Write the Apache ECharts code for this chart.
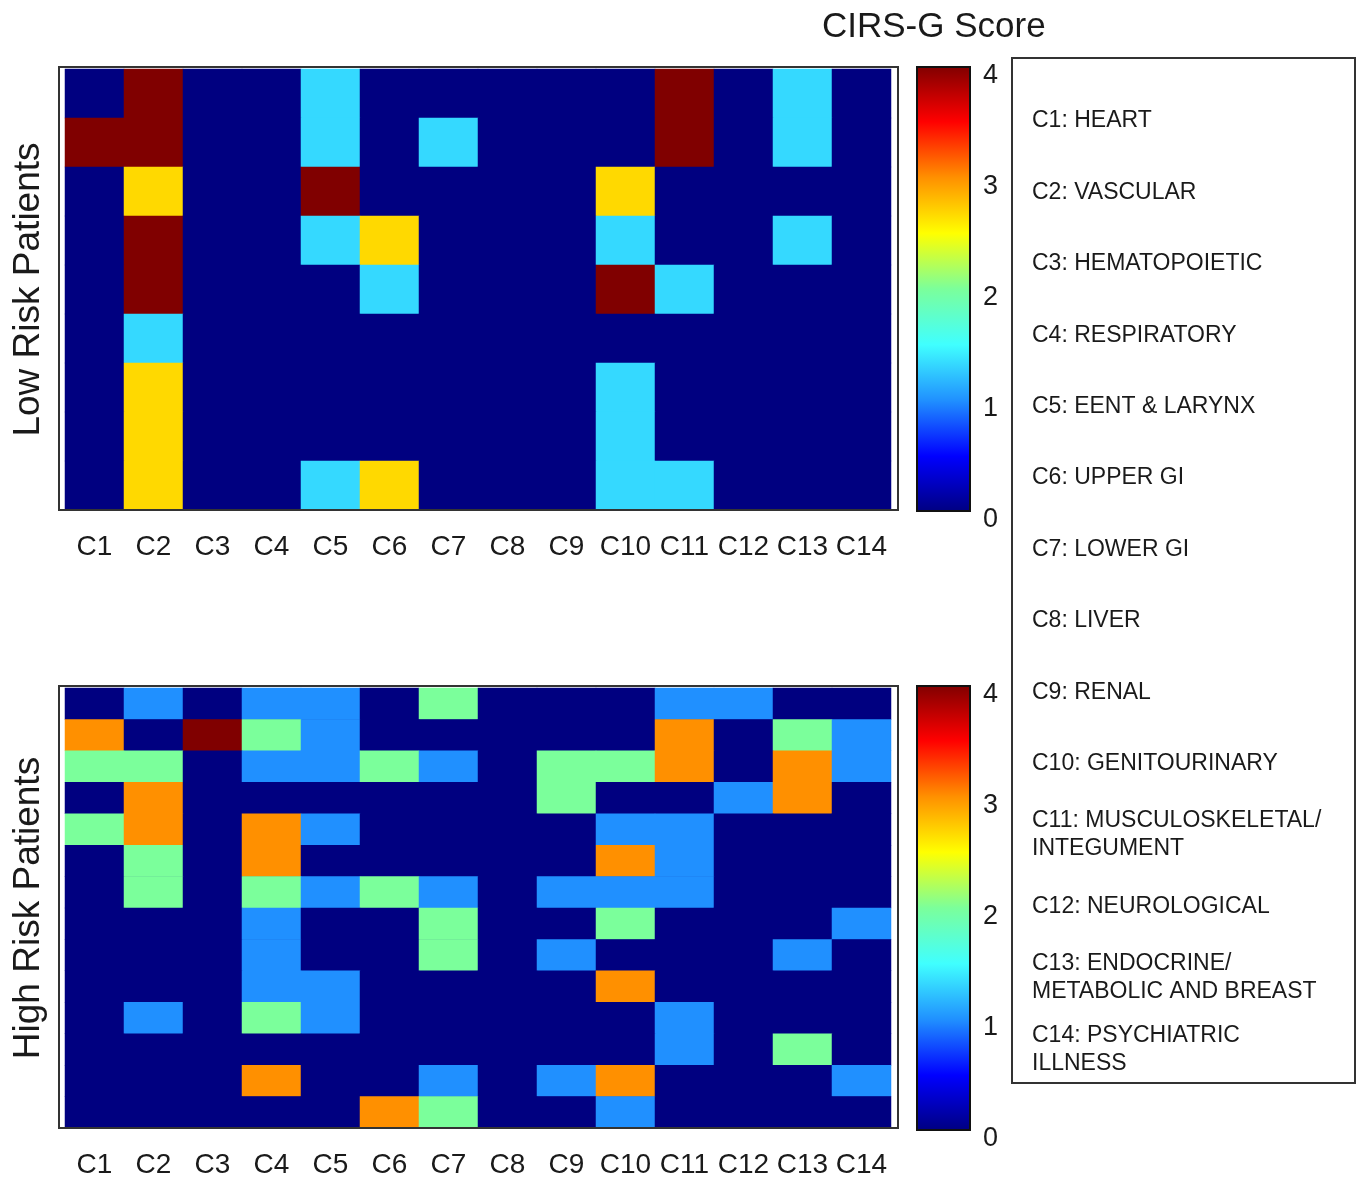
<!DOCTYPE html>
<html>
<head>
<meta charset="utf-8">
<title>CIRS-G Score</title>
<script src="https://cdn.jsdelivr.net/npm/echarts@6/dist/echarts.min.js"></script>
<style>
  html, body { margin: 0; padding: 0; background: #fff; }
  #chart { width: 1363px; height: 1182px; }
</style>
</head>
<body>
<div id="chart"></div>
<script>
const categories = ['C1', 'C2', 'C3', 'C4', 'C5', 'C6', 'C7', 'C8', 'C9', 'C10', 'C11', 'C12', 'C13', 'C14'];
const systemNames = [
  'HEART', 'VASCULAR', 'HEMATOPOIETIC', 'RESPIRATORY', 'EENT & LARYNX', 'UPPER GI', 'LOWER GI',
  'LIVER', 'RENAL', 'GENITOURINARY', 'MUSCULOSKELETAL/\nINTEGUMENT', 'NEUROLOGICAL',
  'ENDOCRINE/\nMETABOLIC AND BREAST', 'PSYCHIATRIC\nILLNESS',
];
const scoreMin = 0;
const scoreMax = 4;
const scoreStep = 1;

// one row per patient, one column per organ system
const lowRisk = [
  [0, 4, 0, 0, 1.33, 0, 0, 0, 0, 0, 4, 0, 1.33, 0],
  [4, 4, 0, 0, 1.33, 0, 1.33, 0, 0, 0, 4, 0, 1.33, 0],
  [0, 2.67, 0, 0, 4, 0, 0, 0, 0, 2.67, 0, 0, 0, 0],
  [0, 4, 0, 0, 1.33, 2.67, 0, 0, 0, 1.33, 0, 0, 1.33, 0],
  [0, 4, 0, 0, 0, 1.33, 0, 0, 0, 4, 1.33, 0, 0, 0],
  [0, 1.33, 0, 0, 0, 0, 0, 0, 0, 0, 0, 0, 0, 0],
  [0, 2.67, 0, 0, 0, 0, 0, 0, 0, 1.33, 0, 0, 0, 0],
  [0, 2.67, 0, 0, 0, 0, 0, 0, 0, 1.33, 0, 0, 0, 0],
  [0, 2.67, 0, 0, 1.33, 2.67, 0, 0, 0, 1.33, 1.33, 0, 0, 0],
];
const highRisk = [
  [0, 1, 0, 1, 1, 0, 2, 0, 0, 0, 1, 1, 0, 0],
  [3, 0, 4, 2, 1, 0, 0, 0, 0, 0, 3, 0, 2, 1],
  [2, 2, 0, 1, 1, 2, 1, 0, 2, 2, 3, 0, 3, 1],
  [0, 3, 0, 0, 0, 0, 0, 0, 2, 0, 0, 1, 3, 0],
  [2, 3, 0, 3, 1, 0, 0, 0, 0, 1, 1, 0, 0, 0],
  [0, 2, 0, 3, 0, 0, 0, 0, 0, 3, 1, 0, 0, 0],
  [0, 2, 0, 2, 1, 2, 1, 0, 1, 1, 1, 0, 0, 0],
  [0, 0, 0, 1, 0, 0, 2, 0, 0, 2, 0, 0, 0, 1],
  [0, 0, 0, 1, 0, 0, 2, 0, 1, 0, 0, 0, 1, 0],
  [0, 0, 0, 1, 1, 0, 0, 0, 0, 3, 0, 0, 0, 0],
  [0, 1, 0, 2, 1, 0, 0, 0, 0, 0, 1, 0, 0, 0],
  [0, 0, 0, 0, 0, 0, 0, 0, 0, 0, 1, 0, 2, 0],
  [0, 0, 0, 3, 0, 0, 1, 0, 1, 3, 0, 0, 0, 1],
  [0, 0, 0, 0, 0, 3, 2, 0, 0, 1, 0, 0, 0, 0],
];

// jet-like colormap, evenly spaced from 0 to 4
const jet = ['#000080', '#0000ff', '#2090ff', '#40ffff', '#7bff9b', '#ffff00', '#ff9000', '#ff0000', '#800000'];

const FONT = '"Liberation Sans", Arial, sans-serif';
const TEXT = '#1a1a1a';

const toCells = (rows) => rows.flatMap((row, r) => row.map((v, c) => [c, r, v]));
const rowNames = (rows) => rows.map((_, i) => String(i + 1));

const gradient = {
  type: 'linear', x: 0, y: 1, x2: 0, y2: 0,
  colorStops: jet.map((color, i) => ({ offset: i / (jet.length - 1), color })),
};

const panels = [
  { top: 69, height: 441, name: 'Low Risk Patients', rows: lowRisk, barTop: 67 },
  { top: 688, height: 440, name: 'High Risk Patients', rows: highRisk, barTop: 686 },
];

const getOption = () => ({
  backgroundColor: '#fff',
  textStyle: { fontFamily: FONT },
  title: {
    text: 'CIRS-G Score',
    left: 817,
    top: 5,
    textStyle: { fontFamily: FONT, fontSize: 35, fontWeight: 'normal', color: TEXT },
  },
  grid: [
    // heatmaps (navy behind the cells hides seams between rows)
    ...panels.map((p) => ({
      left: 65, width: 826, top: p.top, height: p.height,
      show: true, backgroundColor: jet[0], borderWidth: 0,
    })),
    // colorbars
    ...panels.map((p) => ({
      left: 917, width: 53, top: p.barTop, height: 444,
      show: true, backgroundColor: gradient, borderColor: '#111', borderWidth: 2,
    })),
  ],
  xAxis: [
    ...panels.map((p, i) => ({
      type: 'category',
      gridIndex: i,
      data: categories,
      axisLine: { show: false },
      axisTick: { show: false },
      axisLabel: { interval: 0, fontSize: 28, color: TEXT, margin: 23, fontFamily: FONT },
      splitLine: { show: false },
    })),
    ...panels.map((p, i) => ({ type: 'value', gridIndex: 2 + i, show: false, min: 0, max: 1 })),
  ],
  yAxis: [
    ...panels.map((p, i) => ({
      type: 'category',
      gridIndex: i,
      inverse: true,
      data: rowNames(p.rows),
      axisLine: { show: false },
      axisTick: { show: false },
      axisLabel: { show: false },
      name: p.name,
      nameLocation: 'middle',
      nameRotate: 90,
      nameGap: 18,
      nameTextStyle: { fontSize: 37, color: TEXT, fontFamily: FONT },
    })),
    ...panels.map((p, i) => ({
      type: 'value',
      gridIndex: 2 + i,
      position: 'right',
      min: scoreMin,
      max: scoreMax,
      interval: scoreStep,
      axisLine: { show: false },
      axisTick: { show: false },
      splitLine: { show: false },
      axisLabel: {
        fontSize: 27, color: TEXT, margin: 13, fontFamily: FONT,
        verticalAlign: 'top', lineHeight: 17,
      },
    })),
  ],
  visualMap: panels.map((p, i) => ({
    type: 'continuous',
    show: false,
    seriesIndex: i,
    min: scoreMin,
    max: scoreMax,
    inRange: { color: jet },
  })),
  series: panels.map((p, i) => ({
    type: 'heatmap',
    xAxisIndex: i,
    yAxisIndex: i,
    data: toCells(p.rows),
    itemStyle: { borderWidth: 0 },
    emphasis: { disabled: true },
    progressive: 0,
  })),
  graphic: [
    // axes boxes
    ...panels.map((p) => ({
      type: 'rect',
      z: 100,
      shape: { x: 59, y: p.top - 2, width: 839, height: p.height + 2 },
      style: { fill: 'none', stroke: '#333', lineWidth: 2 },
    })),
    // organ-system key
    {
      type: 'rect',
      z: 100,
      shape: { x: 1012, y: 58, width: 343, height: 1025 },
      style: { fill: '#fff', stroke: '#333', lineWidth: 2 },
    },
    ...systemNames.map((name, i) => ({
      type: 'text',
      z: 101,
      x: 1032,
      y: 121 + 71.4 * i,
      style: {
        text: `${categories[i]}: ${name}`,
        fontFamily: FONT,
        fontSize: 23,
        lineHeight: 28,
        fill: TEXT,
        verticalAlign: 'middle',
        textAlign: 'left',
      },
    })),
  ],
});

const chart = echarts.init(document.getElementById('chart'), null, { renderer: 'canvas' });
chart.setOption(getOption());
</script>
</body>
</html>
